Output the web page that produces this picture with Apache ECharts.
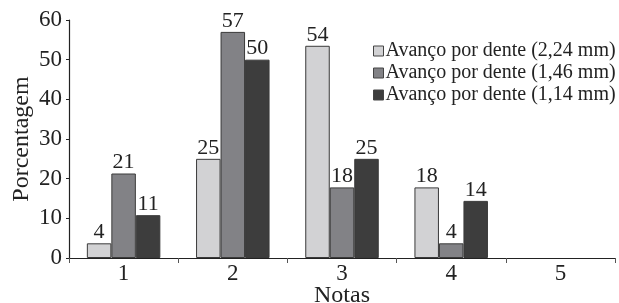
<!DOCTYPE html>
<html><head><meta charset="utf-8">
<script src="https://cdn.jsdelivr.net/npm/echarts@6/dist/echarts.min.js"></script>
<style>html,body{margin:0;padding:0;background:#fff}#c{width:619px;height:303px}</style>
</head><body><div id="c"></div>
<script>
const categories = ['1','2','3','4','5'];
const seriesNames = ['Avanço por dente (2,24 mm)','Avanço por dente (1,46 mm)','Avanço por dente (1,14 mm)'];
const s224 = [3.7, 25, 53.5, 17.8, 0];
const s146 = [21.3, 57, 17.8, 3.7, 0];
const s114 = [10.8, 50, 25, 14.4, 0];
const labels224 = [4, 25, 54, 18, null];
const labels146 = [21, 57, 18, 4, null];
const labels114 = [11, 50, 25, 14, null];
const colors = ['#d2d2d4', '#828286', '#3d3d3d'];

const font = 'Liberation Serif';
const chart = echarts.init(document.getElementById('c'));
function mk(name, data, labs, color){
  return {
    name, type:'bar', data: data.map(v => v === 0 ? null : v),
    barWidth: 24.5, barGap: '0%',
    itemStyle:{color, borderColor:'#3a3a3a', borderWidth:1},
    label:{show:true, position:'top', distance:0, color:'#222', fontFamily:font, fontSize:22,
      formatter: p => labs[p.dataIndex] == null ? '' : String(labs[p.dataIndex])}
  };
}
chart.setOption({
  animation:false,
  textStyle:{fontFamily:font},
  grid:{left:69, right:4, top:20, bottom:45, containLabel:false, outerBoundsMode:'none'},
  legend:{
    orient:'vertical', left:368, top:36, itemWidth:10, itemHeight:10, itemGap:2,
    icon:'rect',
    textStyle:{fontFamily:font, fontSize:20, color:'#222', padding:[0,0,0,-3]},
    data: seriesNames.map((n,i)=>({name:n, itemStyle:{color:colors[i], borderColor:'#444', borderWidth:1}}))
  },
  xAxis:{
    type:'category', data:categories, name:'Notas', nameLocation:'middle', nameGap:26, nameMoveOverlap:false,
    nameTextStyle:{fontFamily:font, fontSize:24, color:'#222'},
    axisLine:{lineStyle:{color:'#222', width:1.2}},
    axisTick:{show:true, length:5, lineStyle:{color:'#555'}},
    axisLabel:{fontFamily:font, fontSize:23, color:'#222', margin:4}
  },
  yAxis:{
    type:'value', min:0, max:60, interval:10, name:'Porcentagem', nameLocation:'middle', nameGap:35, nameMoveOverlap:false,
    nameTextStyle:{fontFamily:font, fontSize:24, color:'#222'},
    axisLine:{show:true, lineStyle:{color:'#222', width:1.2}},
    axisTick:{show:true, length:3, lineStyle:{color:'#222'}},
    splitLine:{show:false},
    axisLabel:{fontFamily:font, fontSize:23, color:'#222', margin:7}
  },
  series:[mk(seriesNames[0], s224, labels224, colors[0]), mk(seriesNames[1], s146, labels146, colors[1]), mk(seriesNames[2], s114, labels114, colors[2])]
});
</script></body></html>
